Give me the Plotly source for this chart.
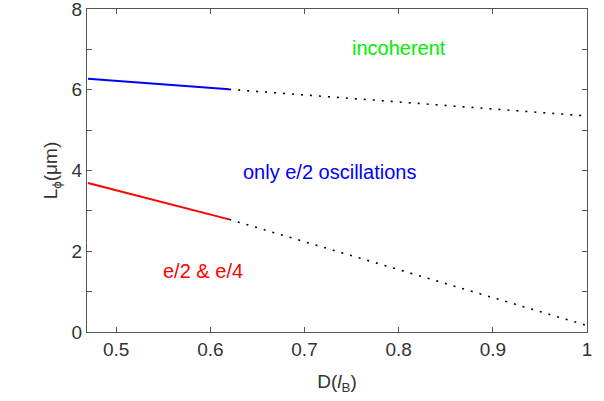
import plotly.graph_objects as go

# data
x_solid = [0.47, 0.62]
blue_solid = [6.27, 6.01]
red_solid = [3.69, 2.79]
x_dot = [0.62, 1.0]
blue_dot = [6.01, 5.35]
red_dot = [2.79, 0.16]

labels = ["incoherent", "only e/2 oscillations", "e/2 & e/4"]
label_x = [0.80, 0.727, 0.592]
label_y = [7.03, 3.96, 1.5]
label_colors = ["#00ee00", "#0000ff", "#ff0000"]

FONT = "Liberation Sans, Arial, Helvetica"

fig = go.Figure()
fig.add_trace(go.Scatter(x=x_dot, y=blue_dot, mode="lines",
                         line=dict(color="black", width=1.6, dash="2px,7px")))
fig.add_trace(go.Scatter(x=x_dot, y=red_dot, mode="lines",
                         line=dict(color="black", width=1.6, dash="2px,7px")))
fig.add_trace(go.Scatter(x=x_solid, y=blue_solid, mode="lines",
                         line=dict(color="#0000ff", width=2)))
fig.add_trace(go.Scatter(x=x_solid, y=red_solid, mode="lines",
                         line=dict(color="#ff0000", width=2)))

for t, xx, yy, c in zip(labels, label_x, label_y, label_colors):
    fig.add_annotation(x=xx, y=yy, text=t, showarrow=False,
                       font=dict(color=c, size=20, family=FONT))

axis_common = dict(showline=True, mirror="ticks", linecolor="#555", linewidth=1.3,
                   ticks="inside", ticklen=5, tickcolor="#555", showgrid=False,
                   zeroline=False, ticklabeloverflow="allow", automargin=False,
                   tickfont=dict(size=19, color="#333", family=FONT))

fig.update_layout(
    width=604, height=401,
    margin=dict(l=87, r=17, t=9, b=69, autoexpand=False),
    paper_bgcolor="white", plot_bgcolor="white",
    showlegend=False,
    xaxis=dict(range=[0.469, 1.0], tickvals=[0.5, 0.6, 0.7, 0.8, 0.9, 1.0],
               ticktext=["0.5", "0.6", "0.7", "0.8", "0.9", "1"],
               title=dict(text="D(<i>l</i><sub>B</sub>)", standoff=15,
                          font=dict(size=19, color="#333", family=FONT)),
               **axis_common),
    yaxis=dict(range=[0, 8], tickvals=[0, 1, 2, 3, 4, 5, 6, 7, 8],
               ticktext=["0", "", "2", "", "4", "", "6", "", "8"],
               title=dict(text="L<sub>ϕ</sub>(μm)", standoff=8,
                          font=dict(size=19, color="#333", family=FONT)),
               **axis_common),
)

fig.write_html("out.html", config={"displayModeBar": False},
               post_script="document.body.style.margin='0px';document.body.style.overflow='hidden';")
